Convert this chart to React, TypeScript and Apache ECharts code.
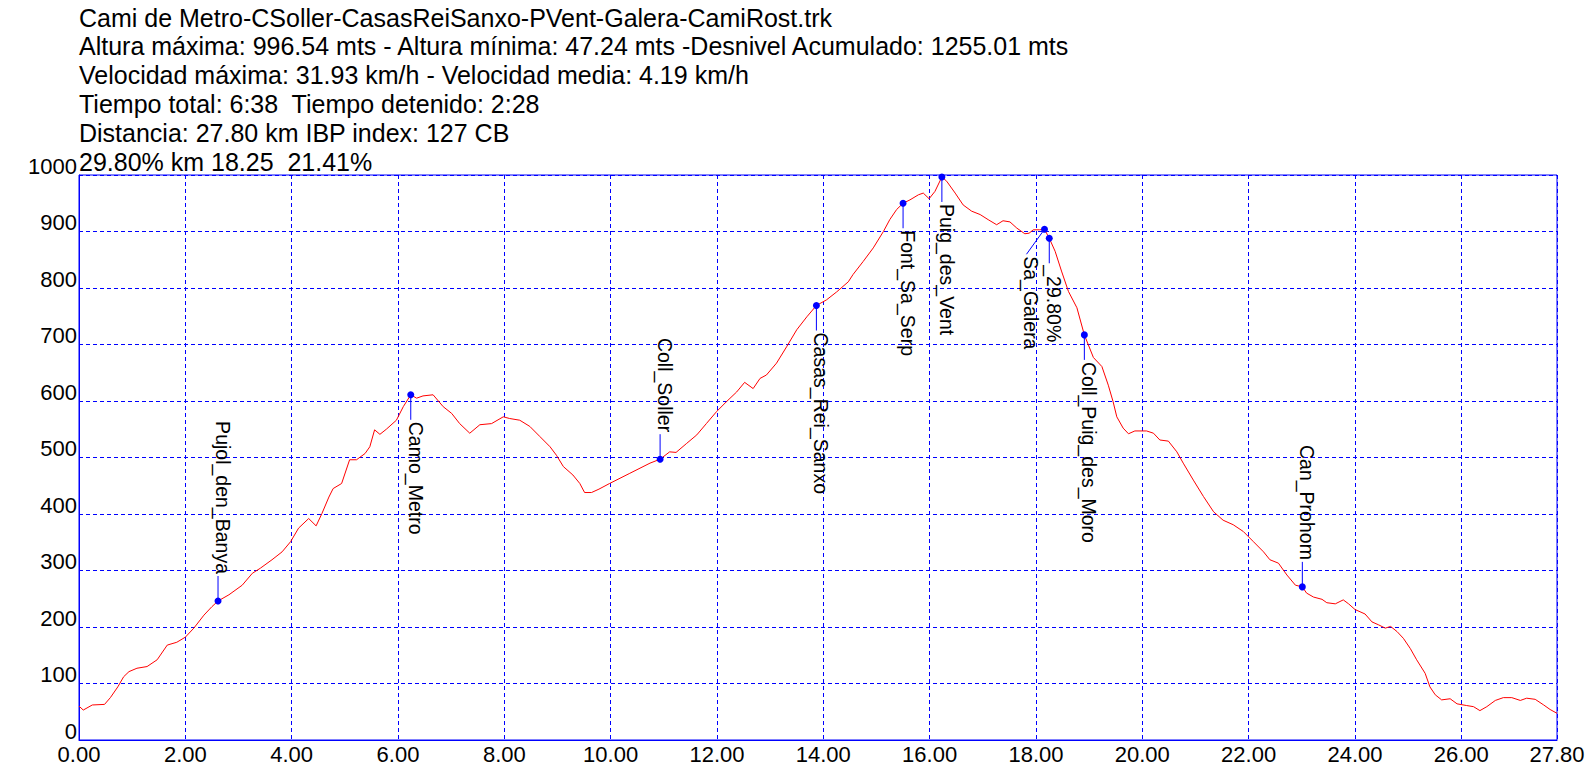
import React, { useEffect, useRef } from "react";
import * as echarts from "echarts";

const headerLines = [
  "Cami de Metro-CSoller-CasasReiSanxo-PVent-Galera-CamiRost.trk",
  "Altura máxima: 996.54 mts - Altura mínima: 47.24 mts -Desnivel Acumulado: 1255.01 mts",
  "Velocidad máxima: 31.93 km/h - Velocidad media: 4.19 km/h",
  "Tiempo total: 6:38  Tiempo detenido: 2:28",
  "Distancia: 27.80 km IBP index: 127 CB",
  "29.80% km 18.25  21.41%",
];

const profileKm = [
  0.0, 0.08, 0.25, 0.48, 0.59, 0.73, 0.84, 0.94, 1.09, 1.28, 1.47, 1.66, 1.84, 2.0, 2.16, 2.35, 2.5, 2.615,
  2.82, 3.07, 3.26, 3.41, 3.63, 3.82, 3.98, 4.13, 4.32, 4.46, 4.57, 4.7, 4.78, 4.94, 5.09, 5.22, 5.38, 5.47,
  5.56, 5.66, 5.78, 5.97, 6.1, 6.24, 6.35, 6.47, 6.66, 6.85, 7.01, 7.16, 7.35, 7.54, 7.76, 7.98, 8.1, 8.29,
  8.48, 8.67, 8.86, 8.98, 9.11, 9.29, 9.42, 9.51, 9.64, 9.78, 9.98, 10.36, 10.74, 10.93, 11.11, 11.23, 11.43,
  11.62, 11.8, 11.99, 12.18, 12.37, 12.52, 12.68, 12.81, 12.93, 13.12, 13.31, 13.5, 13.69, 13.87, 14.06,
  14.25, 14.47, 14.56, 14.75, 14.94, 15.13, 15.25, 15.38, 15.5, 15.63, 15.79, 15.88, 15.99, 16.1, 16.23,
  16.32, 16.48, 16.63, 16.79, 16.95, 17.1, 17.26, 17.38, 17.51, 17.64, 17.79, 17.87, 17.95, 18.07, 18.16,
  18.25, 18.36, 18.48, 18.61, 18.77, 18.91, 19.08, 19.24, 19.36, 19.45, 19.52, 19.64, 19.74, 19.86, 20.08,
  20.21, 20.33, 20.49, 20.65, 20.77, 20.96, 21.15, 21.34, 21.52, 21.71, 21.9, 22.09, 22.28, 22.4, 22.56,
  22.72, 22.88, 23.01, 23.09, 23.22, 23.38, 23.47, 23.63, 23.78, 23.88, 24.0, 24.19, 24.32, 24.44, 24.57,
  24.67, 24.79, 24.91, 25.04, 25.16, 25.32, 25.41, 25.51, 25.63, 25.79, 25.92, 26.1, 26.23, 26.35, 26.48,
  26.64, 26.79, 26.95, 27.11, 27.23, 27.39, 27.55, 27.67, 27.8,
];

const profileElev = [
  60, 53, 62, 63, 75, 94, 112, 121, 127, 130, 142, 168, 173, 182, 198, 221, 236, 246,
  257, 274, 295, 304, 319, 333, 351, 375, 392, 379, 401, 430, 445, 454, 496, 496, 507, 519,
  549, 541, 550, 566, 590, 611, 605, 609, 611, 590, 578, 560, 543, 558, 560, 572, 569, 566,
  555, 537, 519, 504, 484, 469, 454, 438, 438, 444, 454, 472, 490, 497, 510, 509, 525,
  540, 560, 581, 599, 616, 633, 622, 640, 646, 667, 696, 726, 749, 769, 779,
  793, 811, 824, 847, 871, 900, 921, 939, 950, 956, 965, 968, 958, 971, 996.5,
  989, 968, 947, 936, 930, 921, 912, 919, 917, 906, 896, 897, 903, 903, 904,
  888, 865, 830, 794, 765, 717, 677, 661, 628, 599, 572, 552, 542, 547, 547,
  543, 531, 529, 510, 490, 460, 431, 404, 389, 381, 369, 351, 333, 319, 313,
  292, 274, 271, 260, 253, 249, 243, 241, 248, 241, 231, 223, 209, 204, 198,
  201, 192, 180, 162, 142, 118, 94, 80, 71, 73, 64, 61, 59, 52, 59,
  70, 75, 75, 70, 74, 72, 62, 54, 47.24,
];

const markerNames = [
  "Pujol_den_Banya",
  "Camo_Metro",
  "Coll_Soller",
  "Casas_Rei_Sanxo",
  "Font_Sa_Serp",
  "Puig_des_Vent",
  "Sa_Galera",
  "_29.80%",
  "Coll_Puig_des_Moro",
  "Can_Prohom",
];
const markerKm = [2.615, 6.24, 10.93, 13.87, 15.5, 16.23, 18.16, 18.25, 18.91, 23.01];
const markerElev = [246, 611, 497, 769, 950, 996.5, 904, 888, 717, 271];
const markerSide = ["up", "down", "up", "down", "down", "down", "down", "down", "down", "up"];

const FONT = "'Liberation Sans', Arial, Helvetica, sans-serif";
const BLUE = "#0000ff";

export default function App() {
  const ref = useRef<HTMLDivElement>(null);
  useEffect(() => {
    const chart = echarts.init(ref.current as HTMLDivElement, null, { renderer: "svg" });
    const labelShiftX: Record<string, number> = { Sa_Galera: -18 };
    const option: any = {
      animation: false,
      backgroundColor: "#ffffff",
      graphic: headerLines.map((t, i) => ({
        type: "text",
        x: 79,
        y: 17.5 + i * 28.85,
        silent: true,
        style: {
          text: t,
          x: 0,
          y: 0,
          fill: "#000000",
          fontSize: 25,
          fontFamily: FONT,
          align: "left",
          verticalAlign: "middle",
        },
      })),
      grid: {
        left: 79,
        right: 39,
        top: 175,
        bottom: 38,
        show: true,
        borderColor: BLUE,
        borderWidth: 1,
        backgroundColor: "#ffffff",
      },
      xAxis: {
        type: "value",
        min: 0,
        max: 27.8,
        interval: 2,
        axisLine: { show: true, lineStyle: { color: BLUE, width: 1 } },
        axisTick: { show: false },
        splitLine: { show: true, lineStyle: { color: BLUE, width: 1, type: [4, 3] } },
        axisLabel: {
          color: "#000000",
          fontSize: 22,
          fontFamily: FONT,
          margin: 4,
          lineHeight: 20,
          formatter: (v: number) => v.toFixed(2),
        },
      },
      yAxis: {
        type: "value",
        min: 0,
        max: 1000,
        interval: 100,
        axisLine: { show: true, lineStyle: { color: BLUE, width: 1 } },
        axisTick: { show: false },
        splitLine: { show: true, lineStyle: { color: BLUE, width: 1, type: [4, 3] } },
        axisLabel: {
          color: "#000000",
          fontSize: 22,
          fontFamily: FONT,
          margin: 2,
          verticalAlign: "bottom",
          lineHeight: 18,
          formatter: (v: number) => String(v),
        },
      },
      series: [
        {
          type: "line",
          data: profileKm.map((k, i) => [k, profileElev[i]]),
          showSymbol: false,
          symbol: "none",
          lineStyle: { color: "#ff0000", width: 1 },
          z: 3,
        },
        {
          type: "custom",
          coordinateSystem: "cartesian2d",
          clip: false,
          z: 5,
          data: markerNames.map((n, i) => [markerKm[i], markerElev[i], i]),
          renderItem: (params: any, api: any) => {
            const i = api.value(2);
            const p = api.coord([api.value(0), api.value(1)]);
            const px = p[0];
            const py = p[1];
            const dir = markerSide[i] === "up" ? -1 : 1;
            const shift = labelShiftX[markerNames[i]] || 0;
            const ex = px + shift;
            const ey = py + dir * 25;
            return {
              type: "group",
              children: [
                {
                  type: "line",
                  shape: { x1: px, y1: py, x2: ex, y2: ey },
                  style: { stroke: BLUE, lineWidth: 1 },
                },
                {
                  type: "circle",
                  shape: { cx: px, cy: py, r: 3.5 },
                  style: { fill: BLUE },
                },
                {
                  type: "text",
                  x: ex + 5,
                  y: ey + dir * 2,
                  rotation: -Math.PI / 2,
                  style: {
                    text: markerNames[i],
                    x: 0,
                    y: 0,
                    align: dir > 0 ? "left" : "right",
                    verticalAlign: "middle",
                    fontSize: 19.5,
                    fontFamily: FONT,
                    fill: "#000000",
                  },
                },
              ],
            };
          },
        },
      ],
    };
    chart.setOption(option);
    return () => chart.dispose();
  }, []);
  return (
    <div
      ref={ref}
      style={{ position: "fixed", left: 0, top: 0, width: 1596, height: 778, background: "#ffffff" }}
    />
  );
}
